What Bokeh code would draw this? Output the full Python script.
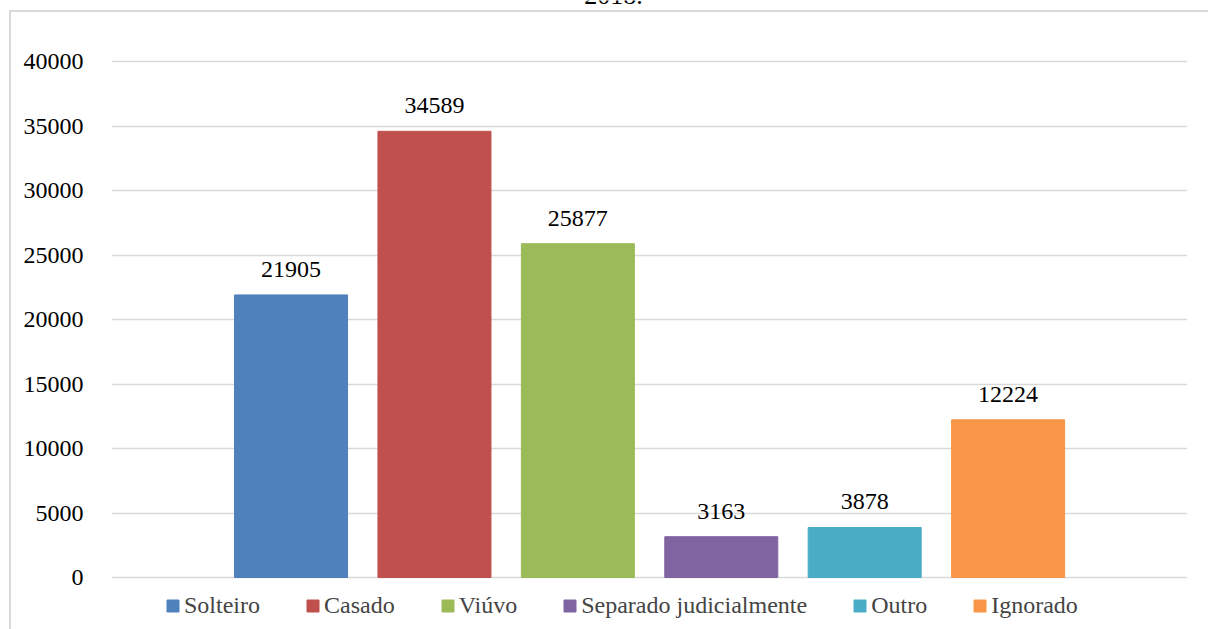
from bokeh.plotting import figure
from bokeh.models import (ColumnDataSource, LabelSet, Legend, LegendItem, FixedTicker,
                          Range1d, Label, InlineStyleSheet)
from bokeh.embed import file_html
from bokeh.resources import INLINE

categories = ["Solteiro", "Casado", "Viúvo", "Separado judicialmente", "Outro", "Ignorado"]
values = [21905, 34589, 25877, 3163, 3878, 12224]
colors = ["#4F81BD", "#C0504D", "#9BBB59", "#8064A2", "#4BACC6", "#F79646"]
yticks = [0, 5000, 10000, 15000, 20000, 25000, 30000, 35000, 40000]
title_text = "2018."

FONT = "Liberation Serif"
GRID = "#d9d9d9"

xs = list(range(len(categories)))
src = ColumnDataSource(dict(x=xs, top=values, color=colors, cat=categories,
                            label=[str(v) for v in values]))

# frame spans the full canvas height; value 0 sits 52 px above the bottom
p = figure(width=1208, height=629, output_backend="svg", toolbar_location=None,
           x_axis_location=None,
           x_range=Range1d(-1.252, 6.251), y_range=Range1d(-4031, 44729),
           min_border_left=111, min_border_right=21, min_border_top=0,
           min_border_bottom=0)
p.outline_line_color = None
p.background_fill_color = "white"
p.border_fill_color = "white"

# outer chart-area border (left and top edges visible)
p.stylesheets = [InlineStyleSheet(css=(
    ":host::after { content: ''; position: absolute; left: 9px; top: 10px; "
    "right: 0; bottom: 0; border-left: 2px solid #d9d9d9; "
    "border-top: 2px solid #d9d9d9; pointer-events: none; }"))]

r = p.vbar(x="x", top="top", width=0.788, bottom=0, color="color", source=src)

p.xgrid.visible = False
p.ygrid.ticker = FixedTicker(ticks=yticks)
p.ygrid.grid_line_color = GRID
p.ygrid.grid_line_width = 1.5
p.yaxis.ticker = FixedTicker(ticks=yticks)
p.yaxis.axis_line_color = None
p.yaxis.major_tick_line_color = None
p.yaxis.minor_tick_line_color = None
p.yaxis.major_label_standoff = 22
p.yaxis.major_label_text_font = FONT
p.yaxis.major_label_text_font_size = "24px"
p.yaxis.major_label_text_color = "black"

labels = LabelSet(x="x", y="top", text="label", source=src, text_align="center",
                  text_baseline="alphabetic", y_offset=18, text_font=FONT,
                  text_font_size="24px", text_color="black")
p.add_layout(labels)

# last line of the (cropped) chart title
p.add_layout(Label(x=2.249, y=45116, text=title_text, text_align="center",
                   text_baseline="alphabetic", text_font=FONT, text_font_size="26px",
                   text_color="black"))

items = [LegendItem(label=c, renderers=[r], index=i) for i, c in enumerate(categories)]
legend = Legend(items=items, orientation="horizontal", location=(54, 10),
                label_text_font=FONT, label_text_font_size="24px",
                glyph_width=15, glyph_height=15, label_standoff=4, spacing=45,
                padding=0, margin=0, border_line_color=None,
                background_fill_alpha=0)
p.add_layout(legend, "center")

open("out.html", "w").write(file_html(p, INLINE))
